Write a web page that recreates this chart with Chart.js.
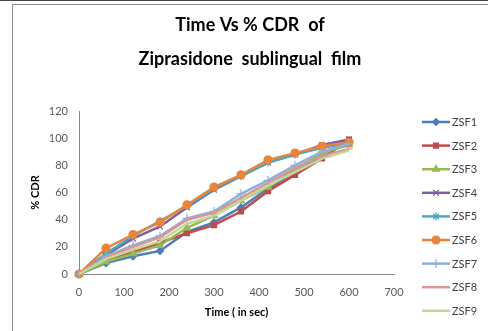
<!DOCTYPE html>
<html>
<head>
<meta charset="utf-8">
<script src="https://cdn.jsdelivr.net/npm/chart.js@4.4.1/dist/chart.umd.min.js"></script>
<style>
  html, body { margin: 0; padding: 0; background: #fff; }
  #wrap { position: relative; width: 488px; height: 331px; overflow: hidden; }
  #topline { position: absolute; left: 0; top: 0; width: 488px; height: 1px; background: #444; }
  #frame { position: absolute; left: 12px; top: 4px; width: 500px; height: 360px; border: 1px solid #8c8c8c; box-sizing: border-box; }
  canvas { position: absolute; left: 0; top: 0; }
</style>
</head>
<body>
<div id="wrap">
  <div id="topline"></div>
  <div id="frame"></div>
  <canvas id="chart" width="488" height="331"></canvas>
</div>
<script>
// --- Data ---
const timeSec = [0, 60, 120, 180, 240, 300, 360, 420, 480, 540, 600];
const seriesNames = ['ZSF1', 'ZSF2', 'ZSF3', 'ZSF4', 'ZSF5', 'ZSF6', 'ZSF7', 'ZSF8', 'ZSF9'];
const zsf1 = [0, 8, 13, 17, 31, 38, 49, 63, 75, 86, 98];
const zsf2 = [0, 10, 16, 23, 30, 36, 46, 61, 73, 85, 99];
const zsf3 = [0, 9, 15, 21, 34, 43, 54, 64, 77, 89, 95];
const zsf4 = [0, 14, 26, 35, 49, 62, 72, 82, 88, 95, 99];
const zsf5 = [0, 15, 28, 39, 50, 63, 72, 82, 88, 93, 96];
const zsf6 = [0, 19, 29, 38, 51, 64, 73, 84, 89, 94, 97];
const zsf7 = [0, 13, 21, 28, 41, 46, 59, 69, 80, 90, 96];
const zsf8 = [0, 12, 20, 27, 40, 45, 56, 67, 78, 87, 92];
const zsf9 = [0, 11, 18, 24, 37, 43, 54, 65, 75, 85, 91];
const xTicks = [0, 100, 200, 300, 400, 500, 600, 700];
const yTicks = [0, 20, 40, 60, 80, 100, 120];
const titleLines = ['Time Vs % CDR  of', 'Ziprasidone  sublingual  film'];

const allValues = [zsf1, zsf2, zsf3, zsf4, zsf5, zsf6, zsf7, zsf8, zsf9];
const colors = ['#4a7ebb', '#be4b48', '#98b954', '#7d60a0', '#46aac5', '#e8843c', '#8fb0dc', '#d99694', '#c3d69b'];
const markers = ['rectRot', 'rect', 'triangle', 'crossRot', 'star', 'circle', 'cross', 'dash', false];
const markerSize = [3.5, 3.5, 4, 4, 4, 4, 4.5, 3.5, 0];

const FONT = 'Lato, "Open Sans", sans-serif';

const datasets = seriesNames.map((name, i) => ({
  label: name,
  data: timeSec.map((t, k) => ({ x: t, y: allValues[i][k] })),
  borderColor: colors[i],
  backgroundColor: colors[i],
  borderWidth: 2.5,
  pointStyle: markers[i],
  pointRadius: markerSize[i],
  pointBorderColor: colors[i],
  pointBackgroundColor: colors[i],
  pointBorderWidth: 1.2,
  tension: 0,
  clip: 8,
  order: seriesNames.length - i,   // later series on top, like Excel
}));

// title centred over the whole frame, not over the plot box
const frameTitle = {
  id: 'frameTitle',
  afterDraw(chart) {
    const ctx = chart.ctx;
    ctx.save();
    ctx.fillStyle = '#000';
    ctx.font = 'bold 18px ' + FONT;
    ctx.textAlign = 'center';
    ctx.textBaseline = 'middle';
    titleLines.forEach((t, i) => ctx.fillText(t, 250, 25 + i * 34));
    ctx.restore();
  }
};

// legend drawn by hand so each entry shows line + marker
const sideLegend = {
  id: 'sideLegend',
  afterDraw(chart) {
    const ctx = chart.ctx;
    chart.data.datasets.forEach((ds, i) => {
      const y = 122 + i * 23.6;
      ctx.save();
      ctx.strokeStyle = ds.borderColor;
      ctx.lineWidth = 2.5;
      ctx.beginPath();
      ctx.moveTo(422, y);
      ctx.lineTo(450, y);
      ctx.stroke();
      if (ds.pointStyle) {
        ctx.fillStyle = ds.backgroundColor;
        ctx.lineWidth = 1.2;
        Chart.helpers.drawPoint(ctx, { pointStyle: ds.pointStyle, radius: ds.pointRadius, borderWidth: 1.2, rotation: 0 }, 436, y);
      }
      ctx.fillStyle = '#404040';
      ctx.font = '11px ' + FONT;
      ctx.textBaseline = 'middle';
      ctx.textAlign = 'left';
      ctx.fillText(ds.label, 452, y + 0.5);
      ctx.restore();
    });
  }
};

new Chart(document.getElementById('chart'), {
  type: 'line',
  data: { datasets },
  plugins: [frameTitle, sideLegend],
  options: {
    responsive: false,
    animation: false,
    layout: { padding: { left: 20, right: 94, top: 111, bottom: 0 } },
    plugins: {
      legend: { display: false },
      tooltip: { enabled: false },
      title: { display: false },
    },
    scales: {
      x: {
        type: 'linear',
        min: 0, max: 700,
        afterBuildTicks: s => { s.ticks = xTicks.map(v => ({ value: v })); },
        afterFit: s => { s.height = 57; },
        grid: { display: false, drawTicks: false },
        border: { display: true, color: '#868686', width: 1 },
        ticks: { color: '#595959', font: { family: FONT, size: 11 }, padding: 12, maxRotation: 0 },
        title: {
          display: true, text: 'Time ( in sec)', color: '#000',
          font: { family: FONT, size: 11, weight: 'bold' }, padding: { top: 0, bottom: 12 },
        },
      },
      y: {
        min: 0, max: 120,
        afterBuildTicks: s => { s.ticks = yTicks.map(v => ({ value: v })); },
        afterFit: s => { s.width = 59; },
        grid: { display: false, drawTicks: false },
        border: { display: true, color: '#868686', width: 1 },
        ticks: { color: '#595959', font: { family: FONT, size: 11 }, padding: 11 },
        title: {
          display: true, text: '% CDR', color: '#000',
          font: { family: FONT, size: 11, weight: 'bold' }, padding: { top: 9, bottom: 0 },
        },
      },
    },
  },
});
</script>
</body>
</html>
